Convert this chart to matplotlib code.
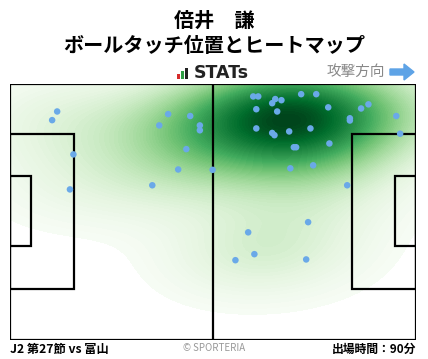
import numpy as np
import matplotlib
matplotlib.use("Agg")
import matplotlib.pyplot as plt
from matplotlib.patches import Rectangle, FancyArrow

plt.rcParams['font.family'] = ['Noto Sans CJK JP', 'DejaVu Sans']

# Ball touch positions on a 105 x 68 pitch (y measured from the top touchline)
touch_x = [12.2, 10.9, 40.9, 46.6, 38.6, 49.1, 49.1, 16.4, 45.6, 43.5, 52.4, 15.5,
           36.8, 62.9, 64.2, 68.6, 67.8, 70.2, 75.3, 79.2, 63.7, 69.1, 82.3, 90.8,
           92.7, 87.9, 87.9, 99.9, 63.7, 67.8, 68.4, 72.2, 77.7, 100.9, 82.6, 73.4,
           74.0, 72.5, 78.4, 87.2, 77.1, 61.6, 63.2, 58.3, 76.6]
touch_y = [7.3, 9.6, 8.0, 8.5, 11.0, 11.0, 12.3, 18.7, 17.3, 22.7, 22.8, 28.0,
           26.9, 3.3, 3.3, 4.0, 5.1, 4.3, 2.7, 2.7, 6.7, 7.3, 6.2, 6.5,
           5.4, 9.1, 9.7, 8.5, 11.8, 13.0, 13.6, 12.6, 11.8, 13.2, 15.8, 16.8,
           16.8, 22.4, 21.6, 26.9, 36.7, 39.4, 45.2, 46.8, 46.6]

player_name = "倍井　謙"
chart_title = "ボールタッチ位置とヒートマップ"
match_label = "J2 第27節 vs 富山"
minutes_label = "出場時間：90分"

PITCH_L, PITCH_W = 105.0, 68.0

fig = plt.figure(figsize=(4.28, 3.59), dpi=100)
ax = fig.add_axes([10 / 428, 19 / 359, 406 / 428, 256 / 359])
ax.set_xlim(0, PITCH_L)
ax.set_ylim(PITCH_W, 0)
ax.axis('off')

# Gaussian KDE (Scott's rule, widened, full covariance)
pts = np.vstack([touch_x, touch_y])
n = pts.shape[1]
factor = 1.3 * n ** (-1.0 / 6.0)
cov = np.cov(pts) * factor ** 2
inv = np.linalg.inv(cov)
gx, gy = np.meshgrid(np.linspace(0, PITCH_L, 300), np.linspace(0, PITCH_W, 200))
dens = np.zeros_like(gx)
for px, py in pts.T:
    dx = gx - px
    dy = gy - py
    dens += np.exp(-0.5 * (inv[0, 0] * dx * dx + 2 * inv[0, 1] * dx * dy + inv[1, 1] * dy * dy))
dens /= dens.max()
thresh = 0.03
levels = np.linspace(thresh, 1.0, 80)
ax.contourf(gx, gy, dens, levels=levels, cmap='Greens', extend='neither', zorder=1)

# Pitch markings
lw = 1.6
kw = dict(fill=False, edgecolor='black', linewidth=lw, zorder=3)
ax.add_patch(Rectangle((0, 0), PITCH_L, PITCH_W, **kw))
ax.plot([PITCH_L / 2, PITCH_L / 2], [0, PITCH_W], color='black', lw=lw, zorder=3)
box_top = 13.3
box_bot = 54.4
ax.add_patch(Rectangle((0, box_top), 16.5, box_bot - box_top, **kw))
ax.add_patch(Rectangle((PITCH_L - 16.5, box_top), 16.5, box_bot - box_top, **kw))
ga_top, ga_bot = 24.4, 43.0
ax.add_patch(Rectangle((0, ga_top), 5.5, ga_bot - ga_top, **kw))
ax.add_patch(Rectangle((PITCH_L - 5.5, ga_top), 5.5, ga_bot - ga_top, **kw))

ax.scatter(touch_x, touch_y, s=22, color='#6aa9e8', edgecolors='none', zorder=4, clip_on=False)

# Titles
fig.text(0.5, 1 - 20 / 359, player_name, ha='center', va='center', fontsize=14.5, fontweight='bold')
fig.text(0.5, 1 - 45 / 359, chart_title, ha='center', va='center', fontsize=14.5, fontweight='bold')

# STATs logo
for i, (h, c) in enumerate([(0.5, '#d62b2b'), (0.75, '#2e9e44'), (1.0, '#222222')]):
    fig.patches.append(Rectangle(((177 + i * 4) / 428, 1 - 79 / 359), 3 / 428, h * 11 / 359,
                                 transform=fig.transFigure, facecolor=c, edgecolor='none'))
fig.text(194 / 428, 1 - 73 / 359, "STATs", ha='left', va='center', fontsize=12.5,
         fontweight='bold', color='#222222', family=['DejaVu Sans'])

fig.text(385 / 428, 1 - 72 / 359, "攻撃方向", ha='right', va='center', fontsize=10.5, color='#888888')
fig.patches.append(FancyArrow(390 / 428, 1 - 72 / 359, 14 / 428, 0, width=6 / 359,
                              head_width=16 / 359, head_length=10 / 428, length_includes_head=False,
                              transform=fig.transFigure, color='#5ea3e6'))

# Footer
fig.text(10 / 428, 1 - 349 / 359, match_label, ha='left', va='center', fontsize=8.8, fontweight='bold')
fig.text(0.5, 1 - 348 / 359, "© SPORTERIA", ha='center', va='center', fontsize=7, color='#999999')
fig.text(416 / 428, 1 - 349 / 359, minutes_label, ha='right', va='center', fontsize=8.5, fontweight='bold')

fig.savefig("out.png", dpi=100)
